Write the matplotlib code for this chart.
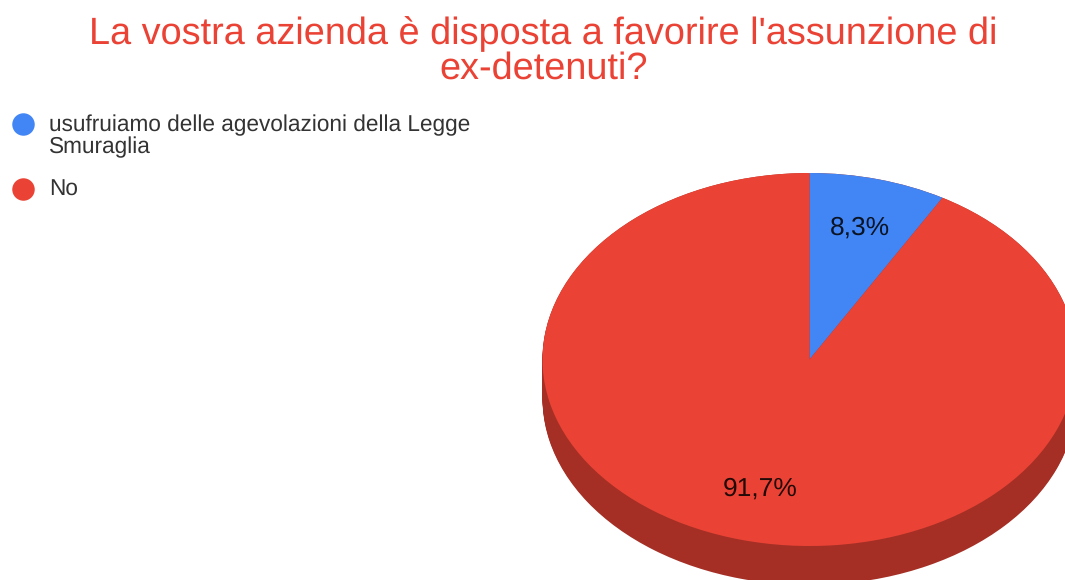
import matplotlib
matplotlib.use("Agg")
import matplotlib.pyplot as plt

plt.rcParams['font.family'] = ['Liberation Sans', 'DejaVu Sans']
plt.rcParams['text.hinting'] = 'no_hinting'

title = "La vostra azienda è disposta a favorire l'assunzione di\nex-detenuti?"
categories = ["usufruiamo delle agevolazioni della Legge\nSmuraglia", "No"]
values = [8.3, 91.7]
value_labels = ["8,3%", "91,7%"]
colors = ["#4285F4", "#EA4335"]
side_color = "#A52F25"
legend_text_color = "#333333"

W, H = 1065, 580
fig = plt.figure(figsize=(W / 100, H / 100), dpi=100, facecolor="white")

cx, cy, rx, ry, depth = 809.5, 359.5, 267, 186.5, 39

def pie_axes(z):
    return fig.add_axes([(cx - rx) / W, 1 - (cy + ry) / H, 2 * rx / W, 2 * ry / H], zorder=z)

# side wall of the tilted pie: the same wedges stacked downwards
side = pie_axes(1)
for px in range(0, depth + 1):
    side.pie(values, colors=[side_color] * 2, startangle=90, counterclock=False,
             radius=1, center=(0, -px / ry))
side.set_aspect("auto")
side.set_xlim(-1, 1)
side.set_ylim(-1, 1)
for p in side.patches:
    p.set_clip_on(False)

# top face
top = pie_axes(2)
top.pie(values, colors=colors, startangle=90, counterclock=False, radius=1)
top.set_aspect("auto")
top.set_xlim(-1, 1)
top.set_ylim(-1, 1)
for p in top.patches:
    p.set_clip_on(False)

# overlay in pixel coordinates for text and legend
lab = fig.add_axes([0, 0, 1, 1], zorder=3)
lab.set_xlim(0, W)
lab.set_ylim(H, 0)
lab.axis("off")
lab.text(859.5, 228, value_labels[0], fontsize=19, color="black", alpha=0.85, ha="center", va="center")
lab.text(760, 489, value_labels[1], fontsize=19, color="black", alpha=0.85, ha="center", va="center")

lab.text(543.5, 51.5, title, fontsize=27.3, color=colors[1], ha="center", va="center", linespacing=0.95)

legend_pos = [(22.5, 124, 49, 136.5), (22.5, 189, 49, 189.5)]
for (mx, my, tx, ty), c, name in zip(legend_pos, colors, categories):
    lab.scatter([mx], [my], s=262, color=c, linewidths=0)
    lab.text(tx, ty, name, fontsize=16.27, color=legend_text_color, ha="left", va="center", linespacing=1.0)

fig.savefig("out.png", dpi=100, facecolor="white")
